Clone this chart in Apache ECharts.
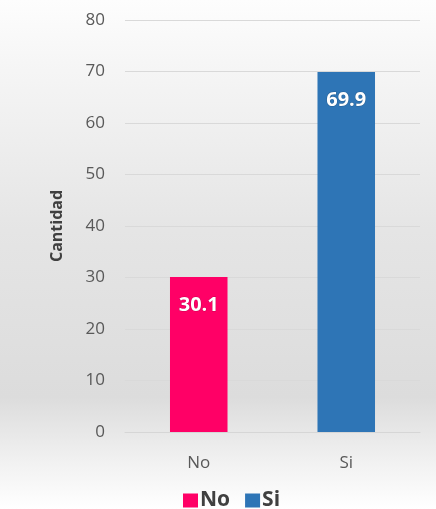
<!DOCTYPE html>
<html>
<head>
<meta charset="utf-8">
<script src="https://cdn.jsdelivr.net/npm/echarts@6/dist/echarts.min.js"></script>
<style>
html,body{margin:0;padding:0;background:#fff;}
#c{width:436px;height:509px;}
</style>
</head>
<body>
<div id="c"></div>
<script>
var categories = ['No', 'Si'];
var seriesNames = ['No', 'Si'];
var values = [30.1, 69.9];
var colors = ['#FF0066', '#2E75B6'];
var yTicks = [0, 10, 20, 30, 40, 50, 60, 70, 80];

var chart = echarts.init(document.getElementById('c'));
var series = seriesNames.map(function (name, i) {
  var d = categories.map(function (c, j) { return j === i ? values[j] : '-'; });
  return {
    name: name,
    type: 'bar',
    stack: 'all',
    data: d,
    barWidth: '39%',
    itemStyle: { color: colors[i] },
    label: {
      show: true,
      position: 'insideTop',
      distance: 18,
      color: '#ffffff',
      fontFamily: 'Open Sans',
      fontWeight: 'bold',
      fontSize: 20,
      textBorderColor: 'rgba(0,0,0,0.2)',
      textBorderWidth: 1
    }
  };
});

chart.setOption({
  backgroundColor: {
    type: 'linear', x: 0, y: 0, x2: 0, y2: 1,
    colorStops: [
      { offset: 0, color: '#fdfdfd' },
      { offset: 0.12, color: '#f6f6f6' },
      { offset: 0.45, color: '#e5e5e5' },
      { offset: 0.78, color: '#dcdcdc' },
      { offset: 0.9, color: '#f0f0f0' },
      { offset: 1, color: '#ffffff' }
    ]
  },
  animation: false,
  grid: { left: 125, right: 16, top: 20, bottom: 77 },
  legend: {
    data: seriesNames,
    top: 485,
    left: 178,
    itemWidth: 15,
    itemHeight: 14,
    itemGap: 15,
    icon: 'rect',
    textStyle: { color: '#404040', fontSize: 21, fontWeight: 'bold', fontFamily: 'Open Sans', padding: [0, 0, 0, -3] }
  },
  xAxis: {
    type: 'category',
    data: categories,
    axisLine: { show: true, lineStyle: { color: '#d6d6d6' } },
    axisTick: { show: false },
    axisLabel: { color: '#595959', fontSize: 17, margin: 23, fontFamily: 'Open Sans' }
  },
  yAxis: {
    type: 'value',
    min: 0, max: 80, interval: 10,
    name: 'Cantidad',
    nameLocation: 'middle',
    nameGap: 60,
    nameTextStyle: { color: '#404040', fontSize: 16, fontWeight: 'bold', fontFamily: 'Open Sans' },
    axisLine: { show: false },
    axisTick: { show: false },
    axisLabel: {
      color: '#595959', fontSize: 17, margin: 20, fontFamily: 'Open Sans',
      formatter: function (v) { return yTicks.indexOf(v) >= 0 ? String(v) : ''; }
    },
    splitLine: { lineStyle: { color: '#d9d9d9' } }
  },
  series: series
});
</script>
</body>
</html>
